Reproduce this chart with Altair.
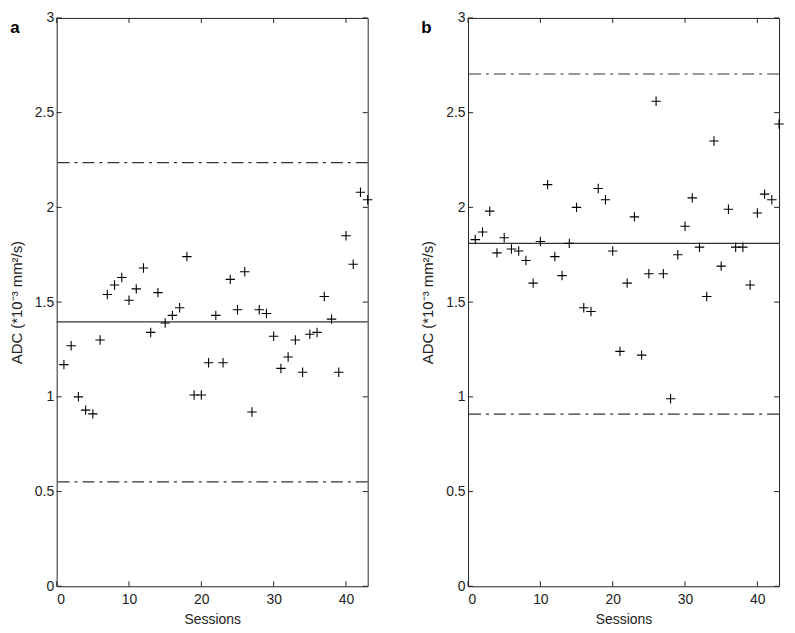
import altair as alt
import pandas as pd

# ---- data ----
sessions = list(range(1, 44))

adc_a = [1.17, 1.27, 1.00, 0.93, 0.91, 1.30, 1.54, 1.59, 1.63, 1.51,
         1.57, 1.68, 1.34, 1.55, 1.39, 1.43, 1.47, 1.74, 1.01, 1.01,
         1.18, 1.43, 1.18, 1.62, 1.46, 1.66, 0.92, 1.46, 1.44, 1.32,
         1.15, 1.21, 1.30, 1.13, 1.33, 1.34, 1.53, 1.41, 1.13, 1.85,
         1.70, 2.08, 2.04]
mean_a, upper_a, lower_a = 1.396, 2.236, 0.551

adc_b = [1.83, 1.87, 1.98, 1.76, 1.84, 1.78, 1.77, 1.72, 1.60, 1.82,
         2.12, 1.74, 1.64, 1.81, 2.00, 1.47, 1.45, 2.10, 2.04, 1.77,
         1.24, 1.60, 1.95, 1.22, 1.65, 2.56, 1.65, 0.99, 1.75, 1.90,
         2.05, 1.79, 1.53, 2.35, 1.69, 1.99, 1.79, 1.79, 1.59, 1.97,
         2.07, 2.04, 2.44]
mean_b, upper_b, lower_b = 1.810, 2.704, 0.909

panel_labels = ["a", "b"]
x_ticks = [0, 10, 20, 30, 40]
y_ticks = [0, 0.5, 1, 1.5, 2, 2.5, 3]

W, H = 313, 572
FONT = "Liberation Sans"
TICK = 5
PLUS = "M-1,0H1M0,-1V1"

def panel(values, mean, upper, lower, label):
    df = pd.DataFrame({"session": sessions, "adc": values})
    xs = alt.Scale(domain=[0, 43], nice=False, zero=False)
    ys = alt.Scale(domain=[0, 3], nice=False)

    pts = alt.Chart(df).mark_point(
        shape=PLUS, size=90, filled=False, stroke="black", strokeWidth=1.1, opacity=1
    ).encode(
        x=alt.X("session:Q", scale=xs,
                axis=alt.Axis(values=x_ticks, title="Sessions", ticks=False, domain=False,
                              grid=False, labelFontSize=14, labelPadding=6,
                              titleFontSize=14, titlePadding=6, titleFontWeight="normal",
                              labelFont=FONT, titleFont=FONT, labelColor="#222",
                              titleColor="#222")),
        y=alt.Y("adc:Q", scale=ys,
                axis=alt.Axis(values=y_ticks, title="ADC (*10⁻³ mm²/s)", ticks=False,
                              domain=False, grid=False, labelFontSize=14, labelPadding=3,
                              labelExpr="datum.value + ''",
                              titleFontSize=15, titlePadding=10, titleFontWeight="normal",
                              labelFont=FONT, titleFont=FONT, labelColor="#222",
                              titleColor="#222")),
    )

    lines = pd.DataFrame({"y": [mean]})
    mean_rule = alt.Chart(lines).mark_rule(color="#333", strokeWidth=1.2).encode(
        y=alt.Y("y:Q", scale=ys))
    lim = pd.DataFrame({"y": [upper, lower]})
    lim_rule = alt.Chart(lim).mark_rule(
        color="#333", strokeWidth=1.2, strokeDash=[12, 5, 3, 5]
    ).encode(y=alt.Y("y:Q", scale=ys))

    xt = pd.DataFrame({"v": x_ticks})
    yt = pd.DataFrame({"v": y_ticks})
    tick_style = dict(color="#222", strokeWidth=1)
    xb = alt.Chart(xt).mark_rule(**tick_style).encode(
        x=alt.X("v:Q", scale=xs), y=alt.value(H - TICK), y2=alt.value(H))
    xtop = alt.Chart(xt).mark_rule(**tick_style).encode(
        x=alt.X("v:Q", scale=xs), y=alt.value(0), y2=alt.value(TICK))
    yl = alt.Chart(yt).mark_rule(**tick_style).encode(
        y=alt.Y("v:Q", scale=ys), x=alt.value(0), x2=alt.value(TICK))
    yr = alt.Chart(yt).mark_rule(**tick_style).encode(
        y=alt.Y("v:Q", scale=ys), x=alt.value(W - TICK), x2=alt.value(W))

    lab = alt.Chart(pd.DataFrame({"t": [label]})).mark_text(
        fontSize=17, fontWeight="bold", font=FONT, color="black", align="center",
        baseline="middle"
    ).encode(text="t:N", x=alt.value(-42), y=alt.value(10))

    return alt.layer(xb, xtop, yl, yr, mean_rule, lim_rule, pts, lab).properties(
        width=W, height=H)

pa = panel(adc_a, mean_a, upper_a, lower_a, panel_labels[0])
pb = panel(adc_b, mean_b, upper_b, lower_b, panel_labels[1])

chart = alt.hconcat(pa, pb, spacing=45).properties(
    padding={"left": 1, "top": 0, "right": 0, "bottom": 0},
    background="white",
).configure_view(stroke="#222", strokeWidth=1)

chart.save("out.html", embed_options={"renderer": "svg", "actions": False})
